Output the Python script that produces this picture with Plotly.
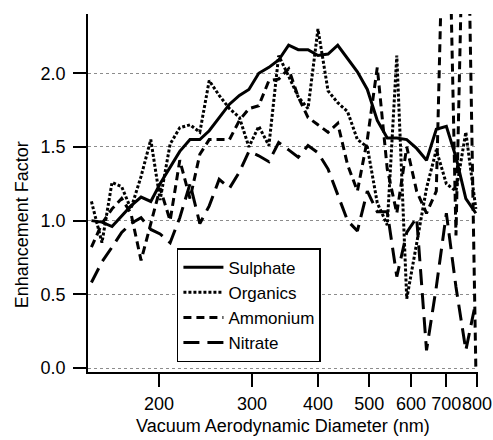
import plotly.graph_objects as go

diameter_nm = [149, 156, 163, 170, 177, 185, 193, 201, 210, 219,
               229, 239, 249, 260, 272, 284, 296, 309, 323, 337,
               352, 367, 383, 400, 418, 436, 455, 475, 496, 518,
               541, 564, 589, 615, 642, 670, 700, 730, 762, 796]

sulphate = [1.00, 0.99, 0.96, 1.03, 1.10, 1.16, 1.13, 1.25, 1.36, 1.47,
            1.55, 1.55, 1.61, 1.70, 1.79, 1.85, 1.89, 2.00, 2.04, 2.09,
            2.19, 2.16, 2.16, 2.12, 2.13, 2.19, 2.10, 2.01, 1.89, 1.68,
            1.56, 1.56, 1.55, 1.49, 1.41, 1.62, 1.64, 1.43, 1.15, 1.05]

organics = [1.13, 0.85, 1.26, 1.23, 1.08, 1.30, 1.55, 1.14, 1.52, 1.63,
            1.65, 1.60, 1.95, 1.85, 1.76, 1.70, 1.50, 1.64, 1.51, 2.12,
            1.98, 1.84, 1.76, 2.30, 1.88, 1.80, 1.74, 1.55, 1.50, 1.12,
            0.97, 2.12, 0.47, 0.85, 1.22, 1.48, 1.25, 1.20, 1.60, 1.08]

ammonium = [0.82, 0.98, 1.08, 1.15, 1.05, 0.73, 0.98, 1.22, 1.00, 1.41,
            1.15, 1.45, 1.55, 1.55, 1.55, 1.68, 1.76, 1.78, 1.95, 1.96,
            2.03, 1.84, 1.70, 1.65, 1.60, 1.66, 1.38, 1.20, 1.55, 2.04,
            1.35, 1.05, 1.50, 1.20, 1.05, 1.20, 4.00, 0.90, 4.00, 0.00]

nitrate = [0.58, 0.72, 0.82, 0.92, 0.98, 1.02, 0.94, 0.91, 0.85, 1.02,
           1.25, 0.98, 1.10, 1.28, 1.22, 1.33, 1.47, 1.44, 1.40, 1.53,
           1.48, 1.43, 1.51, 1.46, 1.35, 1.17, 1.00, 0.93, 1.20, 1.06,
           1.06, 0.62, 0.92, 1.02, 0.12, 0.55, 1.05, 0.55, 0.12, 0.45]

series_names = ["Sulphate", "Organics", "Ammonium", "Nitrate"]
series_values = [sulphate, organics, ammonium, nitrate]
series_dash = ["solid", "3px,2px", "8px,5px", "16px,8px"]

x_tick_vals = [200, 300, 400, 500, 600, 700, 800]
x_tick_text = ["200", "300", "400", "500", "600", "700", "800"]
y_tick_vals = [0.0, 0.5, 1.0, 1.5, 2.0]
y_tick_text = ["0.0", "0.5", "1.0", "1.5", "2.0"]

x_title = "Vacuum Aerodynamic Diameter (nm)"
y_title = "Enhancement Factor"

FONT = "Liberation Sans, Arial, sans-serif"
FS = 18

fig = go.Figure()
for name, vals, dash in zip(series_names, series_values, series_dash):
    fig.add_trace(go.Scatter(
        x=diameter_nm, y=vals, mode="lines", name=name,
        line=dict(color="black", width=3, dash=dash),
    ))

fig.update_layout(
    width=493, height=440,
    margin=dict(l=88, r=15, t=14, b=68, autoexpand=False),
    paper_bgcolor="white", plot_bgcolor="white",
    font=dict(family=FONT, size=FS, color="black"),
    showlegend=True,
    legend=dict(
        x=0.228, y=0.346, xanchor="left", yanchor="top",
        bgcolor="white", bordercolor="black", borderwidth=1.5,
        font=dict(family=FONT, size=17, color="black"),
        itemwidth=40, tracegroupgap=0,
    ),
    annotations=[
        dict(text=x_title, xref="paper", yref="paper", x=0.5, y=-0.152,
             xanchor="center", yanchor="middle", showarrow=False,
             font=dict(family=FONT, size=FS)),
        dict(text=y_title, xref="paper", yref="paper", x=-0.169, y=0.41,
             xanchor="center", yanchor="middle", showarrow=False, textangle=-90,
             font=dict(family=FONT, size=FS)),
    ],
)

fig.update_xaxes(
    type="log", range=[2.1667, 2.905],
    tickvals=x_tick_vals, ticktext=x_tick_text, tickangle=0,
    ticks="outside", ticklen=13, tickwidth=1.5, tickcolor="black",
    ticklabelstandoff=2, automargin=False,
    showline=True, linecolor="black", linewidth=1.5,
    showgrid=False, zeroline=False,
    tickfont=dict(family=FONT, size=FS),
)

fig.update_yaxes(
    range=[-0.027, 2.402],
    tickvals=y_tick_vals, ticktext=y_tick_text, tickangle=0,
    ticks="outside", ticklen=13, tickwidth=1.5, tickcolor="black",
    ticklabelstandoff=4, automargin=False,
    showline=True, linecolor="black", linewidth=1.5,
    showgrid=True, gridcolor="#8c8c8c", griddash="dot", gridwidth=1,
    zeroline=False,
    tickfont=dict(family=FONT, size=FS),
)

fig.write_html("out.html")
